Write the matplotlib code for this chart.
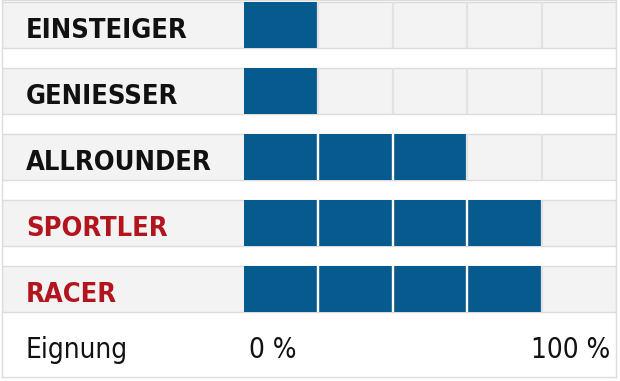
import matplotlib.pyplot as plt

# Data
categories = ["EINSTEIGER", "GENIESSER", "ALLROUNDER", "SPORTLER", "RACER"]
scores = [1, 1, 3, 4, 4]          # filled cells out of 5
label_colors = ["#111111", "#111111", "#111111", "#b3151e", "#b3151e"]
n_cells = 5
axis_caption = "Eignung"
tick_labels = ["0 %", "100 %"]

# Styles
blue = "#075a8e"
row_bg = "#f3f3f3"
row_edge = "#dcdcdc"
sep_grey = "#e2e2e2"
font = dict(family="DejaVu Sans", fontstretch="condensed")

fig = plt.figure(figsize=(6.2, 3.81), dpi=100)
ax = fig.add_axes([2 / 620, 4 / 381, 614 / 620, 377 / 381])

cell_px = (616 - 244) / n_cells
pitch_px = 66
x_left = (2 - 244) / cell_px
ax.set_xlim(x_left, n_cells)
ax.set_ylim((377 - 25) / pitch_px, -25 / pitch_px)

row_h = 46 / pitch_px
for i, (cat, val, col) in enumerate(zip(categories, scores, label_colors)):
    # grey row background
    ax.barh(i, n_cells - x_left, left=x_left, height=row_h,
            color=row_bg, edgecolor=row_edge, linewidth=1)
    # grey separators between empty cells
    ax.vlines(range(1, n_cells), i - row_h / 2, i + row_h / 2,
              color=sep_grey, linewidth=1.6)
    # filled cells
    ax.barh(i, val, left=0, height=row_h, color=blue, linewidth=0)
    ax.vlines(range(1, val), i - row_h / 2, i + row_h / 2,
              color="white", linewidth=1.6)
    ax.text(x_left + 24 / cell_px, i + 13 / pitch_px, cat, color=col,
            fontsize=19.5, fontweight="bold", va="baseline", **font)

base_y = (358 - 25) / pitch_px
ax.text(x_left + 24 / cell_px, base_y, axis_caption, fontsize=20,
        va="baseline", color="#111111", **font)
ax.text(5 / cell_px, base_y, tick_labels[0], fontsize=20,
        va="baseline", color="#111111", **font)
ax.text(n_cells - 6 / cell_px, base_y, tick_labels[1], fontsize=20,
        va="baseline", ha="right", color="#111111", **font)

ax.set_xticks([])
ax.set_yticks([])
for s in ax.spines.values():
    s.set_color("#dddddd")
    s.set_linewidth(1)

fig.savefig("out.png", dpi=100)
